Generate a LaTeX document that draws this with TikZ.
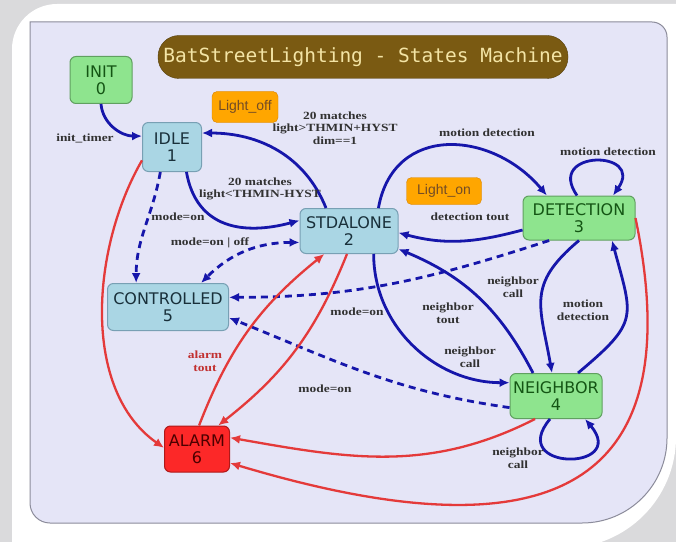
\documentclass[tikz,border=0pt]{standalone}
\usepackage{fontspec}
\setmainfont{Liberation Serif}
\newfontfamily\statefont{DejaVu Sans}
\newfontfamily\edgefont{Liberation Serif}[FakeStretch=1.22]
\newfontfamily\titlefont{DejaVu Sans Mono}
\newfontfamily\lampfont{Liberation Sans}
\usepackage{xcolor}
\usepackage{tikz}
\usetikzlibrary{arrows.meta, positioning}

\definecolor{pagegrey}{RGB}{218,218,220}
\definecolor{panelbg}{RGB}{229,229,247}
\definecolor{panelline}{RGB}{140,140,155}
\definecolor{titlebrown}{RGB}{122,90,18}
\definecolor{titletext}{RGB}{243,228,165}
\definecolor{stategreen}{RGB}{142,228,142}
\definecolor{greenline}{RGB}{96,160,96}
\definecolor{greentext}{RGB}{20,85,20}
\definecolor{stateblue}{RGB}{170,214,228}
\definecolor{blueline}{RGB}{120,160,180}
\definecolor{bluetext}{RGB}{25,48,58}
\definecolor{statered}{RGB}{252,40,40}
\definecolor{redline}{RGB}{175,25,25}
\definecolor{lamporange}{RGB}{255,166,0}
\definecolor{lampline}{RGB}{215,130,0}
\definecolor{edgeblue}{RGB}{22,22,170}
\definecolor{edgered}{RGB}{228,58,58}
\definecolor{labelgrey}{RGB}{50,50,50}

\begin{document}
\begin{tikzpicture}[
        x=1pt, y=1pt,
        >={Latex[length=10pt,width=9pt]},
        statebox/.style={rectangle, rounded corners=6pt, line width=1pt, align=center, inner sep=2pt, font=\statefont\fontsize{16}{17}\selectfont},
        greenstate/.style={statebox, fill=stategreen, draw=greenline, text=greentext},
        bluestate/.style={statebox, fill=stateblue, draw=blueline, text=bluetext},
        redstate/.style={statebox, fill=statered, draw=redline, text=black!70!red},
        lampbox/.style={rectangle, rounded corners=5pt, fill=lamporange, draw=lampline, text=brown!60!black, font=\lampfont\fontsize{14}{16}\selectfont, inner sep=3pt},
        titlebar/.style={rectangle, rounded corners=21pt, fill=titlebrown, draw=titlebrown!70!black, text=titletext, font=\titlefont\fontsize{19.5}{22}\selectfont, minimum width=410pt, minimum height=43pt},
        edgelabel/.style={align=center, text=labelgrey, font=\edgefont\bfseries\fontsize{11}{12.5}\selectfont},
        flow/.style={->, draw=edgeblue, line width=2.8pt},
        modeflow/.style={flow, dash pattern=on 7pt off 5pt},
        alarmflow/.style={->, draw=edgered, line width=2.3pt}
    ]
    % Frame
    \path[use as bounding box, fill=pagegrey] (0,0) rectangle (676,542);
    \fill[white] (12,-6) -- (12,493) arc[start angle=180, end angle=90, radius=45] -- (676,538) -- (676,105) arc[start angle=0, end angle=-90, radius=111] -- cycle;
    \filldraw[fill=panelbg, draw=panelline, line width=1pt] (30,39) -- (30,520) -- (652,520) arc[start angle=90, end angle=0, radius=15] -- (667,104) arc[start angle=0, end angle=-90, radius=85] -- (50,19) arc[start angle=270, end angle=180, radius=20] -- cycle;

    % Nodes
    \node[titlebar] (title) at (363,485) {BatStreetLighting - States Machine};
    \node[greenstate, minimum width=62pt, minimum height=47pt] (init) at (101,462) {INIT\\0};
    \node[bluestate, minimum width=59pt, minimum height=49pt] (idle) at (172,395) {IDLE\\1};
    \node[bluestate, minimum width=98pt, minimum height=45pt] (stdalone) at (349,311) {STDALONE\\2};
    \node[greenstate, minimum width=112pt, minimum height=44pt] (detection) at (579,324) {DETECTION\\3};
    \node[greenstate, minimum width=92pt, minimum height=45pt] (neighbor) at (556,146) {NEIGHBOR\\4};
    \node[bluestate, minimum width=121pt, minimum height=47pt] (controlled) at (168,235) {CONTROLLED\\5};
    \node[redstate, minimum width=65pt, minimum height=46pt] (alarm) at (197,93) {ALARM\\6};
    \node[lampbox, minimum width=66pt, minimum height=31pt] (lightoff) at (245,435) {Light\_off};
    \node[lampbox, minimum width=75pt, minimum height=27pt] (lighton) at (444,351) {Light\_on};

    % Transitions
    \draw[flow] (init.south) to[out=-85, in=180] (idle.160);
    \draw[flow] (stdalone.135) to[out=112, in=0] (idle.25);
    \draw[flow] (idle.-60) to[out=-80, in=195, looseness=1.2] (stdalone.168);
    \draw[modeflow] (idle.-115) to[out=-100, in=90] (controlled.143);
    \draw[modeflow, <->] (stdalone.193) to[out=180, in=45] (controlled.36);
    \draw[flow] (stdalone.38) to[out=80, in=130, looseness=1.3] (detection.145);
    \draw[flow] (detection.192) to[out=195, in=-15] (stdalone.-2);
    \draw[flow] ([xshift=-2pt]detection.north) to[out=125, in=55, looseness=4] ([xshift=34pt]detection.north);
    \draw[flow] (detection.south) to[out=-140, in=100, looseness=1.3] ([xshift=-4pt]neighbor.north);
    \draw[flow] ([xshift=22pt]neighbor.north) to[out=40, in=-75, looseness=1.5] ([xshift=33pt]detection.south);
    \draw[flow] ([xshift=-23pt]neighbor.north) to[bend right=20] (stdalone.-20);
    \draw[flow] (stdalone.-43) to[out=-90, in=180] (neighbor.164);
    \draw[flow] ([xshift=-6pt]neighbor.south) to[out=-130, in=-50, looseness=5] ([xshift=29pt]neighbor.south);
    \draw[modeflow] (detection.-143) to[out=198, in=0] (controlled.9);
    \draw[modeflow] (neighbor.194) to[out=172, in=-22] (controlled.-10);

    % Alarm transitions
    \draw[alarmflow] (idle.204) to[out=240, in=145, looseness=0.9] (alarm.178);
    \draw[alarmflow] (alarm.85) to[bend left=15] (stdalone.-137);
    \draw[alarmflow] (stdalone.-95) to[bend left=15] (alarm.48);
    \draw[alarmflow] ([xshift=-21pt]neighbor.south) to[out=207, in=-10] (alarm.19);
    \draw[alarmflow] (detection.east) .. controls (690,60) and (560,-20) .. (alarm.-23);

    % Labels
    \node[edgelabel] (initlbl) at (85,404) {init\_timer};
    \node[edgelabel] (uplbl) at (335,414) {20 matches\\light>THMIN+HYST\\dim==1};
    \node[edgelabel] (downlbl) at (260,353) {20 matches\\light<THMIN-HYST};
    \node[edgelabel] (modelbl) at (178,325) {mode=on};
    \node[edgelabel] (togglelbl) at (210,299) {mode=on | off};
    \node[edgelabel] (motionlbl) at (487,409) {motion detection};
    \node[edgelabel] (looplbl) at (608,390) {motion detection};
    \node[edgelabel] (toutlbl) at (470,325) {detection tout};
    \node[edgelabel] (calllbl) at (513,255) {neighbor\\call};
    \node[edgelabel] (backlbl) at (583,232) {motion\\detection};
    \node[edgelabel] (detmodelbl) at (357,230) {mode=on};
    \node[edgelabel] (ntoutlbl) at (448,229) {neighbor\\tout};
    \node[edgelabel] (ncalllbl) at (470,185) {neighbor\\call};
    \node[edgelabel] (nmodelbl) at (325,153) {mode=on};
    \node[edgelabel] (nlooplbl) at (518,84) {neighbor\\call};
    \node[edgelabel, text=edgered!85!black] (alarmlbl) at (205,181) {alarm\\tout};
\end{tikzpicture}
\end{document}
